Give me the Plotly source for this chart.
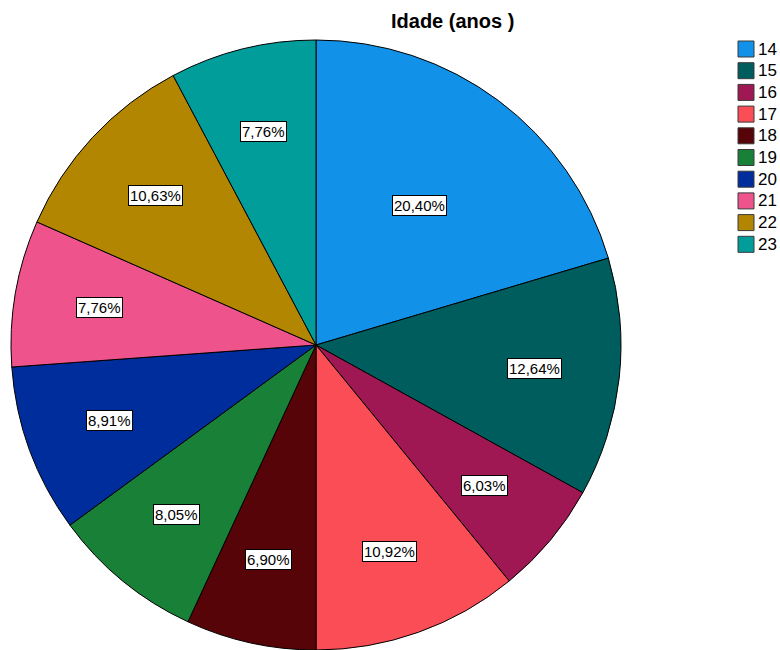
import math
import plotly.graph_objects as go

# Age distribution (counts per age)
ages = ["14", "15", "16", "17", "18", "19", "20", "21", "22", "23"]
counts = [71, 44, 21, 38, 24, 28, 31, 27, 37, 27]
colors = ["#1192e8", "#005d5d", "#9f1853", "#fa4d56", "#570408",
          "#198038", "#002d9c", "#ee538b", "#b28600", "#009d9a"]
title_text = "Idade (anos )"

W, H = 780, 650
cx, cy, R = 316, 345, 305  # pie centre and radius in pixels
FONT = "Liberation Sans, Arial, sans-serif"

fig = go.Figure(go.Pie(
    labels=ages,
    values=counts,
    marker=dict(colors=colors, line=dict(color="#000000", width=1)),
    sort=False,
    direction="clockwise",
    rotation=0,
    textinfo="none",
    hoverinfo="label+percent",
    showlegend=False,
    domain=dict(x=[(cx - R) / W, (cx + R) / W],
                y=[max(0.0, (H - cy - R) / H), min(1.0, (H - cy + R) / H)]),
))

# percentage labels in boxes, placed along each slice's mid-angle
total = sum(counts)
acc = 0
annotations = []
for v in counts:
    mid = (acc + v / 2) / total * 2 * math.pi
    acc += v
    frac = 0.57 if v / total > 0.18 else 0.72
    px = cx + frac * R * math.sin(mid)
    py = cy - frac * R * math.cos(mid)
    pct = f"{100 * v / total:.2f}%".replace(".", ",")
    annotations.append(dict(
        x=px / W, y=1 - py / H, xref="paper", yref="paper",
        xanchor="center", yanchor="middle",
        text=pct, showarrow=False,
        font=dict(family=FONT, size=15, color="#000000"),
        bgcolor="#ffffff", bordercolor="#000000", borderwidth=1, borderpad=1,
    ))

annotations.append(dict(
    x=452 / W, y=1 - 21 / H, xref="paper", yref="paper",
    xanchor="center", yanchor="middle",
    text=f"<b>{title_text}</b>", showarrow=False,
    font=dict(family=FONT, size=20, color="#000000"),
))

# legend: colour swatch plus age label for each slice
shapes = []
lx0, ly0, step, sw = 738, 49, 21.7, 16
for i, (age, col) in enumerate(zip(ages, colors)):
    yc = ly0 + i * step
    shapes.append(dict(
        type="rect", xref="paper", yref="paper",
        x0=lx0 / W, x1=(lx0 + sw) / W,
        y0=1 - (yc + sw / 2) / H, y1=1 - (yc - sw / 2) / H,
        fillcolor=col, line=dict(color="#3a3a3a", width=1),
    ))
    annotations.append(dict(
        x=(lx0 + sw + 2) / W, y=1 - yc / H, xref="paper", yref="paper",
        xanchor="left", yanchor="middle", text=age, showarrow=False,
        font=dict(family=FONT, size=17, color="#000000"),
    ))

fig.update_layout(
    width=W, height=H,
    margin=dict(l=0, r=0, t=0, b=0),
    paper_bgcolor="#ffffff",
    annotations=annotations,
    shapes=shapes,
    showlegend=False,
)

fig.write_html("out.html")
